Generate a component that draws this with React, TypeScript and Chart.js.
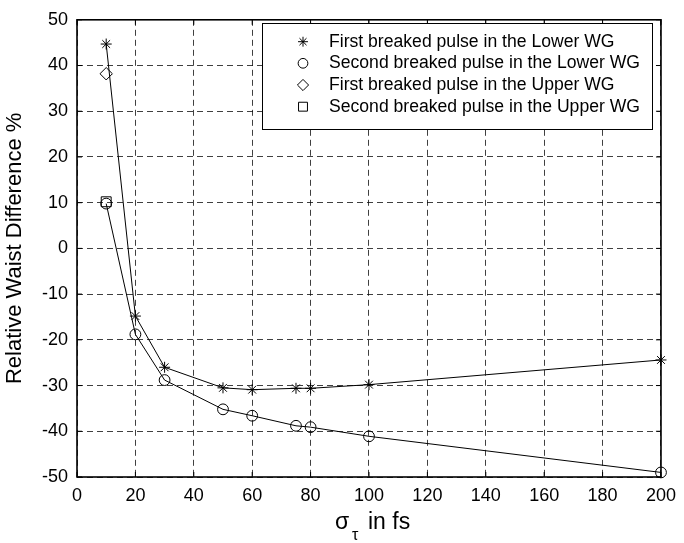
import React, { useEffect, useRef } from 'react';
import { Chart, registerables } from 'chart.js';
import { drawPoint } from 'chart.js/helpers';

Chart.register(...registerables);

// ---- data ----
const xLowerFirst = [10, 20, 30, 50, 60, 75, 80, 100, 200];
const yLowerFirst = [44.7, -14.8, -26, -30.5, -30.9, -30.6, -30.6, -29.8, -24.4];
const xLowerSecond = [10, 20, 30, 50, 60, 75, 80, 100, 200];
const yLowerSecond = [9.8, -18.8, -28.8, -35.2, -36.6, -38.8, -39.1, -41.1, -49];
const xUpperFirst = [10];
const yUpperFirst = [38.2];
const xUpperSecond = [10];
const yUpperSecond = [10.2];

const xTicks = [0, 20, 40, 60, 80, 100, 120, 140, 160, 180, 200];
const yTicks = [-50, -40, -30, -20, -10, 0, 10, 20, 30, 40, 50];

const seriesLabels = [
  'First breaked pulse in the Lower WG',
  'Second breaked pulse in the Lower WG',
  'First breaked pulse in the Upper WG',
  'Second breaked pulse in the Upper WG',
];
const seriesMarkers = ['star', 'circle', 'rectRot', 'rect'];
const markerRadii = [5.5, 5.4, 6.2, 7];

const yTitle = 'Relative Waist Difference %';
const xTitleMain = 'σ';
const xTitleSub = 'τ';
const xTitleRest = 'in fs';

const FONT = "'Liberation Sans', Arial, Helvetica, sans-serif";

const toPts = (xs: number[], ys: number[]) => xs.map((x, i) => ({ x, y: ys[i] }));

const framePlugin = {
  id: 'framePlugin',
  afterDraw(chart: any) {
    const { ctx, chartArea: a, scales } = chart;
    ctx.save();
    ctx.setLineDash([]);
    ctx.strokeStyle = '#000';
    ctx.lineWidth = 1;
    ctx.beginPath();
    for (const t of xTicks) {
      const px = scales.x.getPixelForValue(t);
      ctx.moveTo(px, a.bottom);
      ctx.lineTo(px, a.bottom - 5);
      ctx.moveTo(px, a.top);
      ctx.lineTo(px, a.top + 5);
    }
    for (const t of yTicks) {
      const py = scales.y.getPixelForValue(t);
      ctx.moveTo(a.left, py);
      ctx.lineTo(a.left + 5, py);
      ctx.moveTo(a.right, py);
      ctx.lineTo(a.right - 5, py);
    }
    ctx.stroke();
    ctx.lineWidth = 1.6;
    ctx.strokeRect(a.left, a.top, a.right - a.left, a.bottom - a.top);

    // legend box
    const lx0 = 262, lx1 = 652, ly0 = 23, ly1 = 129;
    ctx.fillStyle = '#fff';
    ctx.fillRect(lx0, ly0, lx1 - lx0, ly1 - ly0);
    ctx.lineWidth = 1;
    ctx.strokeStyle = '#000';
    ctx.strokeRect(lx0 + 0.5, ly0 + 0.5, lx1 - lx0, ly1 - ly0);
    const rowY = [41.7, 63.3, 85, 106.7];
    ctx.font = `17.6px ${FONT}`;
    ctx.textBaseline = 'middle';
    ctx.textAlign = 'left';
    seriesLabels.forEach((lab, i) => {
      ctx.strokeStyle = '#000';
      ctx.fillStyle = 'rgba(0,0,0,0)';
      ctx.lineWidth = 1;
      drawPoint(ctx, { pointStyle: seriesMarkers[i], radius: markerRadii[i] * 0.9, rotation: 0, borderWidth: 1 } as any, 303, rowY[i]);
      ctx.fillStyle = '#000';
      ctx.fillText(lab, 329, rowY[i]);
    });

    // x title with subscript
    ctx.fillStyle = '#000';
    ctx.textBaseline = 'alphabetic';
    const cx = (a.left + a.right) / 2;
    ctx.font = `23px ${FONT}`;
    ctx.fillText(xTitleMain, cx - 34, 529);
    ctx.font = `16px ${FONT}`;
    ctx.fillText(xTitleSub, cx - 17, 540);
    ctx.font = `23px ${FONT}`;
    ctx.fillText(xTitleRest, cx - 1, 529);
    ctx.restore();
  },
};

export default function App() {
  const ref = useRef<HTMLCanvasElement>(null);
  useEffect(() => {
    if (!ref.current) return;
    const mk = (xs: number[], ys: number[], i: number, line: boolean) => ({
      label: seriesLabels[i],
      data: toPts(xs, ys),
      showLine: line,
      borderColor: '#000',
      borderWidth: 1,
      backgroundColor: 'rgba(0,0,0,0)',
      pointStyle: seriesMarkers[i],
      pointRadius: markerRadii[i],
      pointBorderColor: '#000',
      pointBackgroundColor: 'rgba(0,0,0,0)',
      pointBorderWidth: 1,
      tension: 0,
      clip: false,
    });
    const chart = new Chart(ref.current, {
      type: 'scatter',
      data: {
        datasets: [
          mk(xLowerFirst, yLowerFirst, 0, true),
          mk(xLowerSecond, yLowerSecond, 1, true),
          mk(xUpperFirst, yUpperFirst, 2, false),
          mk(xUpperSecond, yUpperSecond, 3, false),
        ],
      },
      options: {
        responsive: false,
        animation: false,
        layout: { padding: { top: 14, right: 18, left: 0, bottom: 0 } },
        plugins: { legend: { display: false }, tooltip: { enabled: false } },
        scales: {
          x: {
            type: 'linear',
            min: 0,
            max: 200,
            afterFit: (s: any) => { s.height = 66; },
            afterBuildTicks: (s: any) => { s.ticks = xTicks.map((v) => ({ value: v })); },
            ticks: { font: { family: FONT, size: 18 }, color: '#000', padding: 8, maxRotation: 0 },
            grid: { color: 'rgba(0,0,0,0.75)', lineWidth: 1, drawTicks: false },
            border: { display: false, dash: [6, 4] },
            title: { display: false },
          },
          y: {
            type: 'linear',
            min: -50,
            max: 50,
            afterFit: (s: any) => { s.width = 77; },
            afterBuildTicks: (s: any) => { s.ticks = yTicks.map((v) => ({ value: v })); },
            ticks: { font: { family: FONT, size: 18 }, color: '#000', padding: 9 },
            grid: { color: 'rgba(0,0,0,0.75)', lineWidth: 1, drawTicks: false },
            border: { display: false, dash: [6, 4] },
            title: {
              display: true,
              text: yTitle,
              color: '#000',
              font: { family: FONT, size: 22, weight: 'normal' },
              padding: { top: 2, bottom: 0 },
            },
          },
        },
      },
      plugins: [framePlugin],
    } as any);
    return () => chart.destroy();
  }, []);
  return (
    <div style={{ position: 'fixed', left: 0, top: 0, width: 684, height: 543, background: '#fff' }}>
      <canvas ref={ref} width={684} height={543} />
    </div>
  );
}
